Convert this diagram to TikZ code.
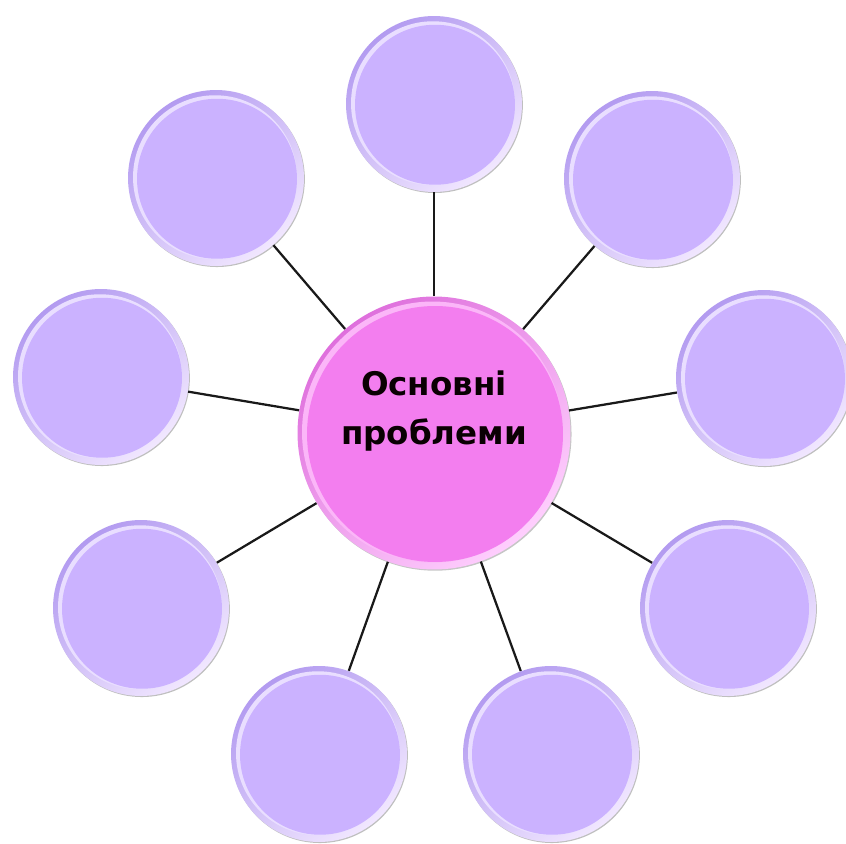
\documentclass[tikz,border=0pt]{standalone}
\usepackage{fontspec}
\newfontfamily\labelfont{DejaVu Sans}
\usetikzlibrary{shadows}
\definecolor{lavface}{HTML}{CBB2FF}
\definecolor{lavrimdark}{HTML}{B29AF0}
\definecolor{lavrimlight}{HTML}{F2E8FF}
\definecolor{lavhigh}{HTML}{E9DEFF}
\definecolor{pinkface}{HTML}{F37EEF}
\definecolor{pinkrimdark}{HTML}{DE6EDC}
\definecolor{pinkrimlight}{HTML}{FFD0FE}
\definecolor{pinkhigh}{HTML}{FBB6F8}
\begin{document}
\begin{tikzpicture}[x=0.02cm,y=-0.02cm,
  connector/.style={draw=black!90, line width=0.045cm},
  bubble/.style={circle, inner sep=0pt, minimum size=3.52cm,
    drop shadow={opacity=0.5, shadow xshift=0.5pt, shadow yshift=-0.6pt},
    path picture={
      \shade[shading=axis, top color=lavrimdark, bottom color=lavrimlight, shading angle=40]
        (path picture bounding box.center) circle (1.80cm);
      \fill[lavhigh] ([xshift=-0.02cm,yshift=0.015cm]path picture bounding box.center) circle (1.64cm);
      \fill[lavface] ([xshift=0.02cm,yshift=-0.015cm]path picture bounding box.center) circle (1.60cm);
    }},
  hub/.style={circle, inner sep=0pt, minimum size=5.46cm,
    drop shadow={opacity=0.45, shadow xshift=0.6pt, shadow yshift=-0.7pt},
    path picture={
      \shade[shading=axis, top color=pinkrimdark, bottom color=pinkrimlight, shading angle=40]
        (path picture bounding box.center) circle (2.80cm);
      \fill[pinkhigh] ([xshift=-0.03cm,yshift=0.02cm]path picture bounding box.center) circle (2.61cm);
      \fill[pinkface] ([xshift=0.02cm,yshift=-0.02cm]path picture bounding box.center) circle (2.56cm);
    }},
  title/.style={align=center, text=black!95!purple, font=\labelfont\bfseries\fontsize{18.5}{27.5}\selectfont}
]
\useasboundingbox (0,0) rectangle (846,844);

\node[hub] (c) at (434,433) {};
\node[title] (t) at (434,411) {Основні\\проблеми};

\node[bubble] (n1) at (434,104) {};
\node[bubble] (n2) at (216,178) {};
\node[bubble] (n3) at (101,377) {};
\node[bubble] (n4) at (141,608) {};
\node[bubble] (n5) at (319,754) {};
\node[bubble] (n6) at (551,754) {};
\node[bubble] (n7) at (728,608) {};
\node[bubble] (n8) at (764,378) {};
\node[bubble] (n9) at (652,179) {};

\foreach \n in {n1,n2,n3,n4,n5,n6,n7,n8,n9}
  \draw[connector] (c) -- (\n);
\end{tikzpicture}
\end{document}
